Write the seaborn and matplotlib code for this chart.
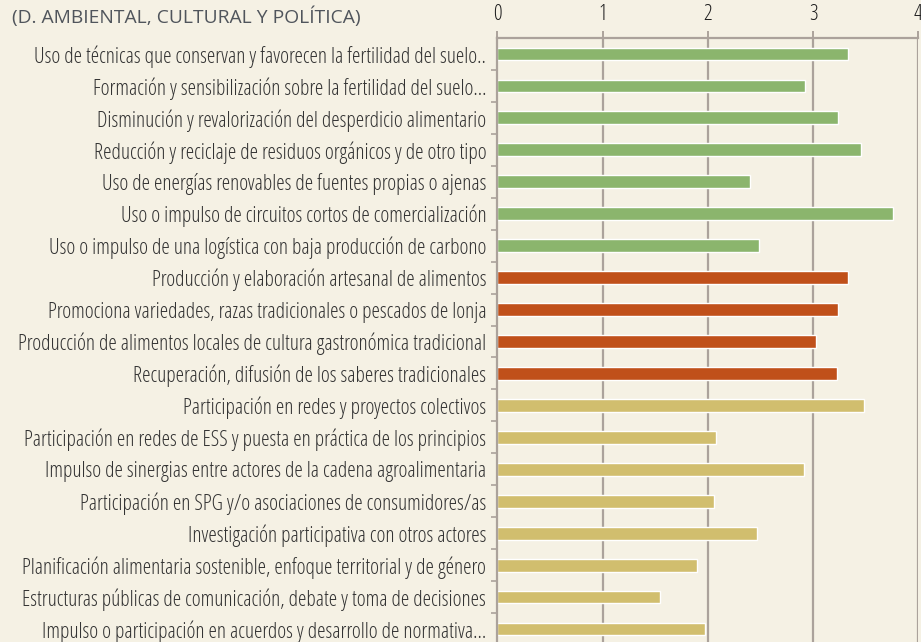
import numpy as np
import pandas as pd
import matplotlib
matplotlib.use('Agg')
import matplotlib.pyplot as plt
import seaborn as sns

labels = [
    'Uso de técnicas que conservan y favorecen la fertilidad del suelo..',
    'Formación y sensibilización sobre la fertilidad del suelo...',
    'Disminución y revalorización del desperdicio alimentario',
    'Reducción y reciclaje de residuos orgánicos y de otro tipo',
    'Uso de energías renovables de fuentes propias o ajenas',
    'Uso o impulso de circuitos cortos de comercialización',
    'Uso o impulso de una logística con baja producción de carbono',
    'Producción y elaboración artesanal de alimentos',
    'Promociona variedades, razas tradicionales o pescados de lonja',
    'Producción de alimentos locales de cultura gastronómica tradicional',
    'Recuperación, difusión de los saberes tradicionales',
    'Participación en redes y proyectos colectivos',
    'Participación en redes de ESS y puesta en práctica de los principios',
    'Impulso de sinergias entre actores de la cadena agroalimentaria',
    'Participación en SPG y/o asociaciones de consumidores/as',
    'Investigación participativa con otros actores',
    'Planificación alimentaria sostenible, enfoque territorial y de género',
    'Estructuras públicas de comunicación, debate y toma de decisiones',
    'Impulso o participación en acuerdos y desarrollo de normativa...',
]
values = [3.33, 2.92, 3.24, 3.46, 2.40, 3.76, 2.49,
          3.33, 3.24, 3.03, 3.23,
          3.48, 2.08, 2.91, 2.06, 2.47, 1.90, 1.55, 1.97]
groups = ['ambiental'] * 7 + ['cultural'] * 4 + ['politica'] * 8
palette = {'ambiental': '#8BB56D', 'cultural': '#C0501A', 'politica': '#D1BE6E'}

bg = '#F5F1E4'
grid_c = '#ABA29B'

sns.set_theme(style='white')
plt.rcParams['font.family'] = ['Open Sans', 'DejaVu Sans']
plt.rcParams['font.stretch'] = 'condensed'

df = pd.DataFrame({'label': labels, 'valor': values, 'grupo': groups})

fig = plt.figure(figsize=(9.21, 6.42), dpi=100, facecolor=bg)
ax = fig.add_axes([497.3 / 921, -3 / 642, (918.3 - 497.3) / 921, (645 - 38) / 642])
ax.set_facecolor(bg)

sns.barplot(data=df, x='valor', y='label', hue='grupo', palette=palette,
            dodge=False, legend=False, width=0.4, saturation=1, ax=ax)

ax.set_xlim(0, 4)
ax.set_ylim(len(labels) - 0.5, -0.5)
ax.set_xticks([0, 1, 2, 3, 4])
ax.xaxis.tick_top()
ax.set_xlabel('')
ax.set_ylabel('')
for x in [1, 2, 3, 4]:
    ax.axvline(x, color=grid_c, lw=1.6, zorder=0)

for s in ['right', 'bottom']:
    ax.spines[s].set_visible(False)
for s in ['top', 'left']:
    ax.spines[s].set_color(grid_c)
    ax.spines[s].set_linewidth(1.6)

ax.tick_params(axis='x', which='major', top=True, length=5, width=1.4,
               color=grid_c, labelsize=15.5, labelcolor='#1e1e1e', pad=4)
ax.tick_params(axis='y', which='major', left=False, length=0,
               labelsize=15.5, labelcolor='#333333', pad=8)
ax.set_yticks(np.arange(len(labels) - 1) + 0.5, minor=True)
ax.tick_params(axis='y', which='minor', left=True, length=4, width=1.2,
               color=grid_c)

fig.text(12 / 921, 1 - 17 / 642, '(D. AMBIENTAL, CULTURAL Y POLÍTICA)',
         family=['Open Sans', 'DejaVu Sans'], fontstretch='normal',
         fontsize=13.9, color='#50555c', va='center', ha='left')

fig.savefig('out.png', dpi=100, facecolor=bg)
